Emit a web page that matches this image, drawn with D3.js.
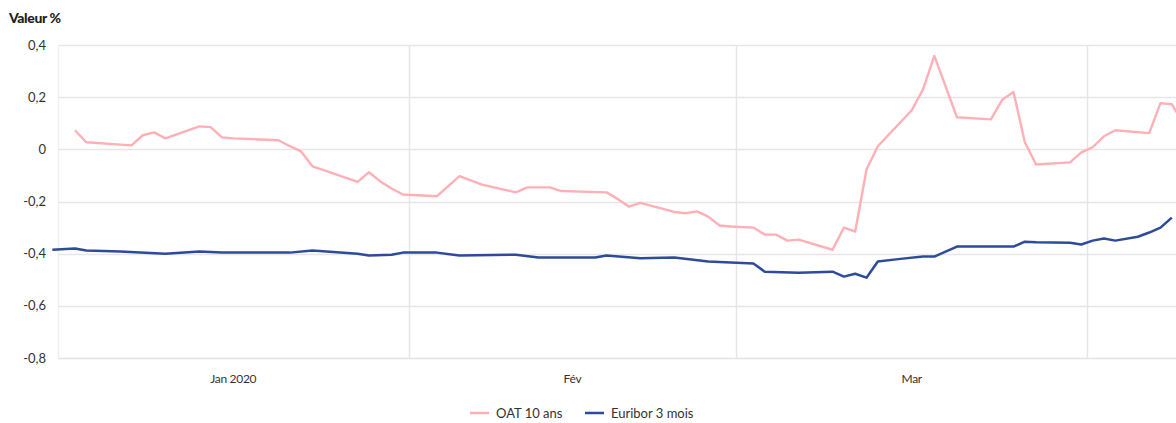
<!DOCTYPE html>
<html>
<head>
<meta charset="utf-8">
<script src="https://cdn.jsdelivr.net/npm/d3@7"></script>
<style>
  body { margin: 0; background: #fff; }
  text { font-family: Lato, "Open Sans", sans-serif; }
</style>
</head>
<body>
<div id="container"></div>
<script>
/* Données */
const oatDates = ["2020-01-02","2020-01-03","2020-01-07","2020-01-08","2020-01-09","2020-01-10","2020-01-13","2020-01-14","2020-01-15","2020-01-16","2020-01-20","2020-01-21","2020-01-22","2020-01-23","2020-01-24","2020-01-27","2020-01-28","2020-01-29","2020-01-30","2020-01-31","2020-02-03","2020-02-05","2020-02-07","2020-02-10","2020-02-11","2020-02-13","2020-02-14","2020-02-18","2020-02-19","2020-02-20","2020-02-21","2020-02-24","2020-02-25","2020-02-26","2020-02-27","2020-02-28","2020-02-29","2020-03-02","2020-03-03","2020-03-04","2020-03-05","2020-03-06","2020-03-09","2020-03-10","2020-03-11","2020-03-12","2020-03-13","2020-03-16","2020-03-17","2020-03-18","2020-03-20","2020-03-23","2020-03-24","2020-03-25","2020-03-26","2020-03-27","2020-03-30","2020-03-31","2020-04-01","2020-04-02","2020-04-03","2020-04-06","2020-04-07","2020-04-08","2020-04-09"];
const oatValues = [0.073,0.027,0.015,0.054,0.065,0.042,0.088,0.085,0.046,0.042,0.035,0.012,-0.008,-0.065,-0.08,-0.125,-0.088,-0.123,-0.15,-0.173,-0.18,-0.103,-0.135,-0.165,-0.146,-0.146,-0.16,-0.165,-0.19,-0.22,-0.205,-0.24,-0.245,-0.238,-0.258,-0.292,-0.296,-0.3,-0.327,-0.327,-0.35,-0.346,-0.385,-0.3,-0.315,-0.077,0.012,0.15,0.23,0.358,0.123,0.115,0.19,0.22,0.027,-0.058,-0.05,-0.012,0.008,0.05,0.073,0.062,0.177,0.173,0.1];

const euriborDates = ["2019-12-31","2020-01-02","2020-01-03","2020-01-06","2020-01-10","2020-01-13","2020-01-15","2020-01-21","2020-01-23","2020-01-27","2020-01-28","2020-01-30","2020-01-31","2020-02-03","2020-02-05","2020-02-10","2020-02-12","2020-02-17","2020-02-18","2020-02-21","2020-02-24","2020-02-27","2020-03-02","2020-03-03","2020-03-06","2020-03-09","2020-03-10","2020-03-11","2020-03-12","2020-03-13","2020-03-15","2020-03-17","2020-03-18","2020-03-20","2020-03-23","2020-03-25","2020-03-26","2020-03-27","2020-03-30","2020-03-31","2020-04-01","2020-04-02","2020-04-03","2020-04-05","2020-04-06","2020-04-07","2020-04-08"];
const euriborValues = [-0.385,-0.38,-0.388,-0.392,-0.4,-0.392,-0.396,-0.396,-0.388,-0.4,-0.407,-0.404,-0.396,-0.396,-0.407,-0.404,-0.415,-0.415,-0.407,-0.418,-0.415,-0.43,-0.438,-0.469,-0.473,-0.469,-0.488,-0.477,-0.492,-0.43,-0.42,-0.411,-0.411,-0.373,-0.373,-0.373,-0.354,-0.356,-0.358,-0.365,-0.35,-0.342,-0.35,-0.335,-0.319,-0.3,-0.262];

const yTicks = [0.4, 0.2, 0, -0.2, -0.4, -0.6, -0.8];
const monthStarts = ["2020-01-01","2020-02-01","2020-03-01","2020-04-01"];
const monthLabels = ["Jan 2020", "Fév", "Mar"];
const seriesNames = ["OAT 10 ans", "Euribor 3 mois"];

/* Mise en page */
const width = 1176, height = 423,
plotLeft = 58, plotRight = 1176, plotTop = 45, plotBottom = 358;

const colorOat = "#ffb0b6", colorEuribor = "#2e4a9a";

const parse = d3.utcParse("%Y-%m-%d");
/* les points sont placés à midi */
const at = function(s){ return d3.utcHour.offset(parse(s), 12); };

const x = d3.scaleUtc()
	.domain([parse("2020-01-01"), parse("2020-04-01")])
	.range([plotLeft, 1087]);
const y = d3.scaleLinear()
	.domain([-0.8, 0.4])
	.range([plotBottom, plotTop]);

const svg = d3.select("#container").append("svg")
	.attr("width", width)
	.attr("height", height);

/* Grille horizontale */
svg.append("g").selectAll("line")
	.data(yTicks)
	.enter().append("line")
		.attr("x1", plotLeft)
		.attr("x2", plotRight)
		.attr("y1", function(d){return Math.round(y(d)) + 0.5})
		.attr("y2", function(d){return Math.round(y(d)) + 0.5})
		.attr("stroke", function(d){return d == -0.8 ? "#e3e3e3" : "#e6e6e6"})
		.attr("stroke-width", 1.5);

/* Grille verticale */
svg.append("g").selectAll("line")
	.data(monthStarts)
	.enter().append("line")
		.attr("x1", function(d){return Math.round(x(parse(d))) + 0.5})
		.attr("x2", function(d){return Math.round(x(parse(d))) + 0.5})
		.attr("y1", plotTop)
		.attr("y2", plotBottom)
		.attr("stroke", function(d, i){return i == 0 ? "#efefef" : "#e6e6e6"})
		.attr("stroke-width", 1.5);

/* Libellés axe Y */
svg.append("g").selectAll("text")
	.data(yTicks)
	.enter().append("text")
		.attr("x", 46)
		.attr("y", function(d){return y(d) + 4.5})
		.style("text-anchor", "end")
		.style("font-size", "13px")
		.style("fill", "#333")
		.text(function(d){return d == 0 ? "0" : d3.format(".1f")(d).replace(".", ",").replace("−", "-")});

/* Libellés axe X */
svg.append("g").selectAll("text")
	.data(monthLabels)
	.enter().append("text")
		.attr("x", function(d, i){return (x(parse(monthStarts[i])) + x(parse(monthStarts[i+1]))) / 2})
		.attr("y", 383)
		.style("text-anchor", "middle")
		.style("font-size", "12px")
		.style("letter-spacing", "-0.3px")
		.style("fill", "#333")
		.text(function(d){return d});

svg.append("text")
	.attr("x", 9)
	.attr("y", 23)
	.style("font-size", "14px")
	.style("font-weight", "900")
	.style("letter-spacing", "-0.4px")
	.style("fill", "#1e1e1e")
	.text("Valeur %");

/* Courbes */
const line = d3.line()
	.x(function(d){return x(d.date)})
	.y(function(d){return y(d.value)});

const oat = oatDates.map(function(d, i){return {date: at(d), value: oatValues[i]}});
const euribor = euriborDates.map(function(d, i){return {date: at(d), value: euriborValues[i]}});

svg.append("path")
	.datum(oat)
	.attr("d", line)
	.attr("fill", "none")
	.attr("stroke", colorOat)
	.attr("stroke-width", 2.4)
	.attr("stroke-linejoin", "round");

svg.append("path")
	.datum(euribor)
	.attr("d", line)
	.attr("fill", "none")
	.attr("stroke", colorEuribor)
	.attr("stroke-width", 2.5)
	.attr("stroke-linejoin", "round");

/* Légende */
const legend = svg.append("g");
const legendX = [470, 585];
legend.selectAll("line")
	.data(seriesNames)
	.enter().append("line")
		.attr("x1", function(d, i){return legendX[i]})
		.attr("x2", function(d, i){return legendX[i] + 19})
		.attr("y1", 413)
		.attr("y2", 413)
		.attr("stroke", function(d, i){return i == 0 ? colorOat : colorEuribor})
		.attr("stroke-width", 2.5);
legend.selectAll("text")
	.data(seriesNames)
	.enter().append("text")
		.attr("x", function(d, i){return legendX[i] + 26})
		.attr("y", 418)
		.style("font-size", "13px")
		.style("fill", "#333")
		.text(function(d){return d});
</script>
</body>
</html>
